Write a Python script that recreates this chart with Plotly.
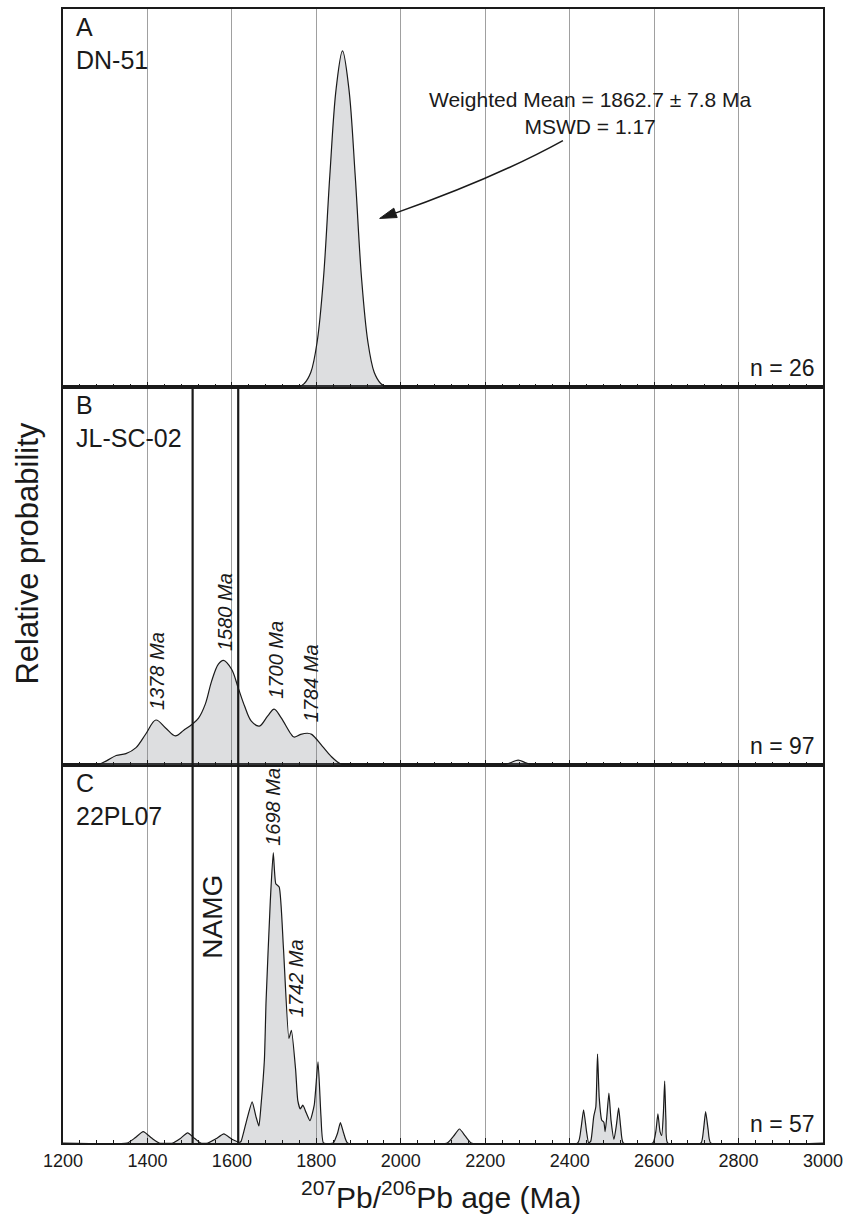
import plotly.graph_objects as go

# ---------------- data ----------------
# Panel A: DN-51 (relative probability, 0-1 of panel height)
A_age = [1200, 1757, 1772, 1787, 1802, 1817, 1832, 1847, 1862, 1877, 1892, 1907, 1922, 1937, 1952, 1967, 3000]
A_val = [0, 0, 0.01, 0.039, 0.12, 0.289, 0.56, 0.79, 0.889, 0.79, 0.56, 0.289, 0.12, 0.039, 0.01, 0, 0]

# Panel B: JL-SC-02
B_age = [1200, 1280, 1303, 1326, 1349, 1373, 1396, 1420, 1443, 1466, 1486, 1506, 1521, 1537, 1552,
         1568, 1580, 1599, 1615, 1630, 1646, 1665, 1685, 1700, 1716, 1740, 1747, 1763, 1779, 1789,
         1814, 1834, 1857, 1873, 2241, 2260, 2278, 2296, 2314, 3000]
B_val = [0, 0, 0.011, 0.025, 0.03, 0.046, 0.082, 0.119, 0.098, 0.077, 0.092, 0.108, 0.124, 0.161, 0.222,
         0.267, 0.277, 0.254, 0.204, 0.156, 0.116, 0.103, 0.13, 0.148, 0.126, 0.082, 0.074, 0.081, 0.084, 0.081,
         0.05, 0.024, 0.003, 0, 0, 0.006, 0.013, 0.006, 0, 0]

# Panel C: 22PL07
C_age = [1200, 1352, 1370, 1390, 1410, 1428, 1460, 1478, 1495, 1512, 1526, 1543, 1562, 1581, 1600,
         1619, 1622, 1635, 1648, 1657, 1664, 1669, 1677, 1681, 1691, 1698, 1704, 1712, 1722, 1735,
         1741, 1751, 1756, 1762, 1768, 1776, 1785, 1795, 1804, 1811, 1817, 1840, 1850, 1857, 1865,
         1874, 2110, 2125, 2139, 2153, 2167, 2419, 2427, 2433, 2440, 2445, 2450, 2457, 2462, 2466,
         2470, 2476, 2481, 2484, 2488, 2493, 2498, 2505, 2511, 2516, 2521, 2527, 2597, 2604, 2609,
         2614, 2618, 2622, 2625, 2628, 2632, 2711, 2717, 2722, 2728, 2734, 3000]
C_val = [0, 0, 0.013, 0.03, 0.013, 0, 0, 0.012, 0.027, 0.012, 0, 0, 0.011, 0.024, 0.01,
         0.002, 0.005, 0.06, 0.109, 0.07, 0.045, 0.1, 0.22, 0.377, 0.64, 0.768, 0.686, 0.677, 0.518, 0.277,
         0.298, 0.193, 0.113, 0.09, 0.1, 0.08, 0.059, 0.1, 0.215, 0.07, 0, 0, 0.025, 0.054, 0.025,
         0, 0, 0.018, 0.037, 0.018, 0, 0, 0.04, 0.088, 0.03, 0, 0.005, 0.07, 0.096, 0.235,
         0.12, 0.06, 0.055, 0.03, 0.07, 0.132, 0.06, 0.01, 0.05, 0.093, 0.04, 0, 0, 0.03, 0.077,
         0.03, 0.02, 0.08, 0.164, 0.06, 0, 0, 0.035, 0.083, 0.035, 0, 0]

tick_vals = [1200, 1400, 1600, 1800, 2000, 2200, 2400, 2600, 2800, 3000]
tick_text = ["1200", "1400", "1600", "1800", "2000", "2200", "2400", "2600", "2800", "3000"]

panel_letters = ["A", "B", "C"]
sample_names = ["DN-51", "JL-SC-02", "22PL07"]
n_grains = [26, 97, 57]

B_peak_labels = ["1378 Ma", "1580 Ma", "1700 Ma", "1784 Ma"]
B_peak_x = [1423, 1584, 1704, 1788]
B_peak_y = [0.249, 0.405, 0.278, 0.217]
C_peak_labels = ["1698 Ma", "1742 Ma"]
C_peak_x = [1697, 1751]
C_peak_y = [0.889, 0.435]

namg_ages = [1507, 1615]

# ---------------- figure ----------------
FONT = "Arial, Liberation Sans, Helvetica, sans-serif"
FILL = "rgba(120,124,132,0.25)"
INK = "#1a1a1a"

fig = go.Figure()
for ages, vals, xa, ya, sm in [(A_age, A_val, "x3", "y3", 1.0),
                               (B_age, B_val, "x2", "y2", 1.0),
                               (C_age, C_val, "x", "y", 0.5)]:
    fig.add_trace(go.Scatter(x=ages, y=vals, xaxis=xa, yaxis=ya, mode="lines",
                             line=dict(color=INK, width=1.2, shape="spline", smoothing=sm),
                             fill="tozeroy", fillcolor=FILL, showlegend=False, hoverinfo="skip"))

xcommon = dict(range=[1200, 3000], tickmode="array", tickvals=tick_vals, ticktext=tick_text,
               ticks="inside", ticklen=5, tickwidth=1.3, tickcolor=INK,
               minor=dict(dtick=40, tick0=1200, ticks="inside", ticklen=3, tickwidth=1.2,
                          tickcolor=INK, showgrid=False),
               showgrid=True, gridcolor="#a0a0a0", gridwidth=1,
               showline=True, linecolor=INK, linewidth=1.8, mirror=True, zeroline=False,
               ticklabeloverflow="allow",
               tickfont=dict(family=FONT, size=18, color=INK))
ycommon = dict(range=[0, 1], showticklabels=False, ticks="", showgrid=False, zeroline=False,
               showline=True, linecolor=INK, linewidth=1.8, mirror=True, fixedrange=True)

fig.update_layout(
    width=850, height=1219,
    margin=dict(l=63, r=20, t=7, b=76),
    paper_bgcolor="white", plot_bgcolor="white",
    font=dict(family=FONT, color=INK),
    xaxis=dict(**xcommon, anchor="y", showticklabels=True),
    xaxis2=dict(**xcommon, anchor="y2", matches="x", showticklabels=False),
    xaxis3=dict(**xcommon, anchor="y3", matches="x", showticklabels=False),
    yaxis=dict(**ycommon, domain=[0, 1/3], anchor="x"),
    yaxis2=dict(**ycommon, domain=[1/3, 2/3], anchor="x2"),
    yaxis3=dict(**ycommon, domain=[2/3, 1], anchor="x3"),
)

ann = []
axes_ids = [("x3", "y3"), ("x2", "y2"), ("x", "y")]
for (xa, ya), letter, name, n in zip(axes_ids, panel_letters, sample_names, n_grains):
    ann.append(dict(text=f"{letter}<br>{name}", xref=f"{xa} domain", yref=f"{ya} domain",
                    x=0, y=1, xanchor="left", yanchor="top", xshift=11, yshift=-2,
                    align="left", showarrow=False, font=dict(size=25, family=FONT)))
    ann.append(dict(text=f"n = {n}", xref=f"{xa} domain", yref=f"{ya} domain",
                    x=1, y=0, xanchor="right", yanchor="bottom", xshift=-6, yshift=4,
                    showarrow=False, font=dict(size=23, family=FONT)))

for t, x, y in zip(B_peak_labels, B_peak_x, B_peak_y):
    ann.append(dict(text=f"<i>{t}</i>", xref="x2", yref="y2", x=x, y=y, textangle=-90,
                    xanchor="center", yanchor="middle",
                    showarrow=False, font=dict(size=20, family=FONT)))
for t, x, y in zip(C_peak_labels, C_peak_x, C_peak_y):
    ann.append(dict(text=f"<i>{t}</i>", xref="x", yref="y", x=x, y=y, textangle=-90,
                    xanchor="center", yanchor="middle",
                    showarrow=False, font=dict(size=20, family=FONT)))

ann.append(dict(text="NAMG", xref="x", yref="y", x=1554, y=0.60, textangle=-90,
                xanchor="center", yanchor="middle",
                showarrow=False, font=dict(size=28, family=FONT)))

ann.append(dict(text="Weighted Mean = 1862.7 ± 7.8 Ma<br>MSWD = 1.17", xref="x3", yref="y3",
                x=2450, y=0.725, xanchor="center", yanchor="middle",
                showarrow=False, align="center", font=dict(size=21, family=FONT)))

ann.append(dict(text="Relative probability", xref="paper", yref="paper",
                x=-0.047, y=0.52, textangle=-90, xanchor="center", yanchor="middle",
                showarrow=False, font=dict(size=31, family=FONT)))
ann.append(dict(text="<sup>207</sup>Pb/<sup>206</sup>Pb age (Ma)", xref="paper", yref="paper",
                x=0.497, y=-0.046, showarrow=False, xanchor="center", yanchor="middle",
                font=dict(size=30, family=FONT)))
fig.update_layout(annotations=ann)

shapes = [
    # curved leader line of the weighted-mean note
    dict(type="path", xref="x3", yref="y3",
         path="M 2384,0.652 Q 2225,0.554 1987,0.460",
         line=dict(color=INK, width=1.5)),
    # arrow head
    dict(type="path", xref="x3", yref="y3",
         path="M 1950,0.446 L 1991.5,0.4483 L 1983.5,0.4731 Z",
         fillcolor=INK, line=dict(color=INK, width=1)),
]
for a in namg_ages:
    shapes.append(dict(type="line", xref="x", yref="paper", x0=a, x1=a, y0=0, y1=2/3,
                       line=dict(color=INK, width=2.2)))
fig.update_layout(shapes=shapes)

fig.write_html("out.html", config={"displayModeBar": False},
               post_script="document.body.style.margin='0';document.body.style.overflow='hidden';")
